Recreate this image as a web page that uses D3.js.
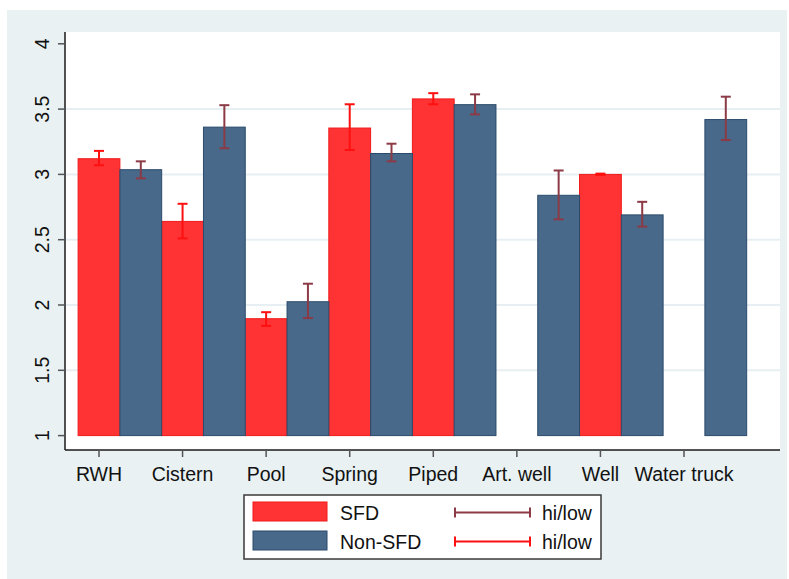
<!DOCTYPE html>
<html>
<head>
<meta charset="utf-8">
<script src="https://cdn.jsdelivr.net/npm/d3@7"></script>
<style>
  html, body { margin: 0; padding: 0; background: #ffffff; }
  svg { display: block; font-family: "Liberation Sans", Arial, sans-serif; }
</style>
</head>
<body>
<svg id="chart" width="789" height="579"></svg>
<script>
// Water source categories (tick positions 1..8)
const categories = ["RWH", "Cistern", "Pool", "Spring", "Piped", "Art. well", "Well", "Water truck"];

// Mean scores with hi/low bounds; null = no observation
const sfdMean = [3.12, 2.64, 1.895, 3.355, 3.578, null, 3.0, null];
const sfdHi   = [3.18, 2.775, 1.945, 3.537, 3.622, null, 3.006, null];
const sfdLow  = [3.07, 2.51, 1.84, 3.187, 3.537, null, 2.996, null];

const nonMean = [3.036, 3.362, 2.025, 3.16, 3.534, 2.84, 2.69, 3.42];
const nonHi   = [3.10, 3.53, 2.163, 3.235, 3.613, 3.03, 2.79, 3.595];
const nonLow  = [2.97, 3.20, 1.90, 3.10, 3.46, 2.656, 2.60, 3.263];

const yTicks = [1, 1.5, 2, 2.5, 3, 3.5, 4];
const gridValues = [1.5, 2, 2.5, 3, 3.5];

const colors = {
  sfd: "#ff3333", sfdStroke: "#f01a1a",
  non: "#48698a", nonStroke: "#2b4b6b",
  sfdErr: "#ff1010", nonErr: "#8c3a46",
  outerBg: "#e9f1f3", grid: "#e8eff3", text: "#111111"
};
const fontSize = 19.5;

const svg = d3.select("#chart");

// Plot region
const plot = { left: 65, right: 780, top: 32, bottom: 450 };

const x = d3.scaleLinear().domain([1, 8]).range([99, 684]);
const y = d3.scaleLinear().domain([1, 4]).range([435.6, 43.8]);
const barW = 0.5;

// Outer graph region
svg.append("rect").attr("x", 7).attr("y", 10).attr("width", 780).attr("height", 569)
  .attr("fill", colors.outerBg);
svg.append("rect").attr("x", plot.left).attr("y", plot.top)
  .attr("width", plot.right - plot.left).attr("height", plot.bottom - plot.top)
  .attr("fill", "#ffffff");

// Gridlines
svg.append("g").selectAll("line").data(gridValues).join("line")
  .attr("x1", plot.left).attr("x2", plot.right)
  .attr("y1", d => y(d)).attr("y2", d => y(d))
  .attr("stroke", colors.grid).attr("stroke-width", 2);

// Bars
const sfdData = categories.map((c, i) => ({ pos: i + 1, mean: sfdMean[i], hi: sfdHi[i], low: sfdLow[i] }))
  .filter(d => d.mean !== null);
const nonData = categories.map((c, i) => ({ pos: i + 1.5, mean: nonMean[i], hi: nonHi[i], low: nonLow[i] }))
  .filter(d => d.mean !== null);

function drawBars(data, fill, stroke) {
  svg.append("g").selectAll("rect").data(data).join("rect")
    .attr("x", d => x(d.pos - barW / 2))
    .attr("width", d => x(d.pos + barW / 2) - x(d.pos - barW / 2))
    .attr("y", d => y(d.mean))
    .attr("height", d => y(1) - y(d.mean))
    .attr("fill", fill).attr("stroke", stroke).attr("stroke-width", 1);
}
drawBars(sfdData, colors.sfd, colors.sfdStroke);
drawBars(nonData, colors.non, colors.nonStroke);

// Hi/low range markers
function drawErr(data, color) {
  const g = svg.append("g").attr("stroke", color).attr("stroke-width", 2).attr("fill", "none");
  data.forEach(d => {
    const cx = x(d.pos);
    g.append("line").attr("x1", cx).attr("x2", cx).attr("y1", y(d.hi)).attr("y2", y(d.low));
    g.append("line").attr("x1", cx - 5).attr("x2", cx + 5).attr("y1", y(d.hi)).attr("y2", y(d.hi));
    g.append("line").attr("x1", cx - 5).attr("x2", cx + 5).attr("y1", y(d.low)).attr("y2", y(d.low));
  });
}
drawErr(sfdData, colors.sfdErr);
drawErr(nonData, colors.nonErr);

// Y axis
svg.append("line").attr("x1", plot.left).attr("x2", plot.left)
  .attr("y1", plot.top).attr("y2", plot.bottom).attr("stroke", "#1a1a1a").attr("stroke-width", 1.5);
const yAxisG = svg.append("g");
yAxisG.selectAll("line").data(yTicks).join("line")
  .attr("x1", plot.left - 7).attr("x2", plot.left)
  .attr("y1", d => y(d)).attr("y2", d => y(d))
  .attr("stroke", "#555555").attr("stroke-width", 1.5);
yAxisG.selectAll("text").data(yTicks).join("text")
  .attr("transform", d => `translate(48.5,${y(d)}) rotate(-90)`)
  .attr("text-anchor", "middle")
  .attr("font-size", fontSize).attr("fill", colors.text)
  .text(d => d3.format("")(d));

// X axis
svg.append("line").attr("x1", plot.left).attr("x2", plot.right)
  .attr("y1", plot.bottom).attr("y2", plot.bottom).attr("stroke", "#1a1a1a").attr("stroke-width", 1.5);
const xAxisG = svg.append("g");
xAxisG.selectAll("line").data(categories).join("line")
  .attr("x1", (d, i) => x(i + 1)).attr("x2", (d, i) => x(i + 1))
  .attr("y1", plot.bottom).attr("y2", plot.bottom + 7)
  .attr("stroke", "#555555").attr("stroke-width", 1.5);
xAxisG.selectAll("text").data(categories).join("text")
  .attr("x", (d, i) => x(i + 1)).attr("y", 481)
  .attr("text-anchor", "middle")
  .attr("font-size", fontSize).attr("fill", colors.text)
  .text(d => d);

// Legend
const lg = svg.append("g");
lg.append("rect").attr("x", 244).attr("y", 495).attr("width", 357).attr("height", 64)
  .attr("fill", "#ffffff").attr("stroke", "#3a3a3a").attr("stroke-width", 1.5);

const legendRows = [
  { label: "SFD", fill: colors.sfd, stroke: colors.sfdStroke, err: colors.nonErr, y: 502 },
  { label: "Non-SFD", fill: colors.non, stroke: colors.nonStroke, err: colors.sfdErr, y: 531 }
];
legendRows.forEach(r => {
  lg.append("rect").attr("x", 253).attr("y", r.y).attr("width", 74).attr("height", 19)
    .attr("fill", r.fill).attr("stroke", r.stroke).attr("stroke-width", 1);
  lg.append("text").attr("x", 340).attr("y", r.y + 18)
    .attr("font-size", fontSize).attr("fill", colors.text).text(r.label);
  const ly = r.y + 10.5;
  const eg = lg.append("g").attr("stroke", r.err).attr("stroke-width", 2);
  eg.append("line").attr("x1", 455).attr("x2", 530).attr("y1", ly).attr("y2", ly);
  eg.append("line").attr("x1", 455).attr("x2", 455).attr("y1", ly - 5).attr("y2", ly + 5);
  eg.append("line").attr("x1", 530).attr("x2", 530).attr("y1", ly - 5).attr("y2", ly + 5);
  lg.append("text").attr("x", 542).attr("y", r.y + 18)
    .attr("font-size", fontSize).attr("fill", colors.text).text("hi/low");
});
</script>
</body>
</html>
